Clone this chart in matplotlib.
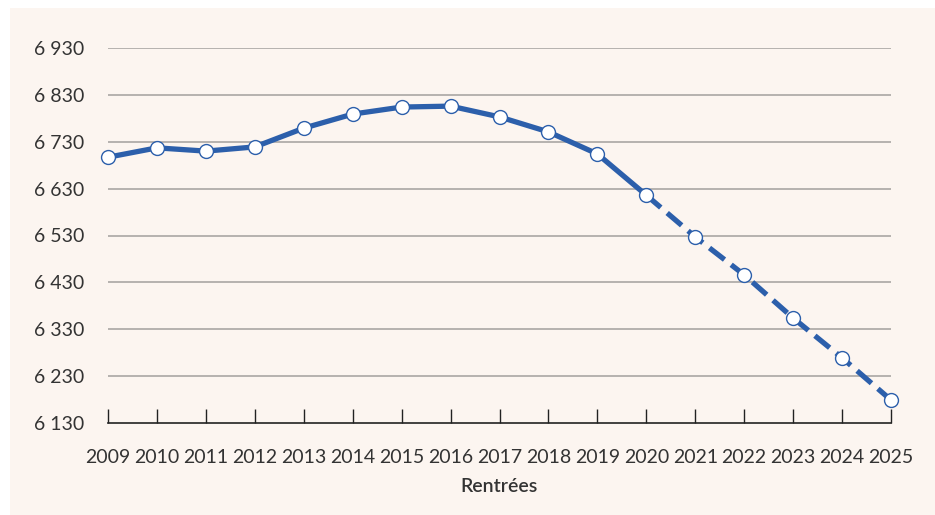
import matplotlib
matplotlib.use('Agg')
import matplotlib.pyplot as plt
from matplotlib.patches import Rectangle

plt.rcParams['font.family'] = ['Lato', 'DejaVu Sans']

years = [2009, 2010, 2011, 2012, 2013, 2014, 2015, 2016, 2017,
         2018, 2019, 2020, 2021, 2022, 2023, 2024, 2025]
values = [6697, 6717, 6710, 6719, 6759, 6789, 6804, 6806, 6783,
          6751, 6704, 6616, 6527, 6446, 6354, 6269, 6179]
last_obs = 2020  # from here on the line is a projection (dashed)
yticks = [6130, 6230, 6330, 6430, 6530, 6630, 6730, 6830, 6930]
ytick_labels = ['6 130', '6 230', '6 330', '6 430', '6 530', '6 630', '6 730', '6 830', '6 930']

blue = '#2c5fab'
txt = '#333333'
bg = '#fcf5f0'

fig = plt.figure(figsize=(9.35, 5.15), dpi=100, facecolor='white')
fig.patches.append(Rectangle((10/935, 0), 1, 507/515, transform=fig.transFigure,
                             facecolor=bg, edgecolor='none', zorder=-10))

ax = fig.add_axes([108/935, 1-423/515, (891-108)/935, (423-48)/515])
ax.set_facecolor('none')

k = years.index(last_obs)
ax.plot(years[:k+1], values[:k+1], color=blue, lw=3.8, solid_capstyle='round', zorder=3, clip_on=False)
ax.plot(years[k:], values[k:], color=blue, lw=3.8, linestyle=(0, (3.6, 1.6)), zorder=3, clip_on=False)
ax.plot(years, values, linestyle='none', marker='o', ms=10, mfc='white', mec=blue, mew=1.0,
        zorder=4, clip_on=False)

ax.set_xlim(2009, 2025)
ax.set_ylim(6130, 6930)
ax.set_yticks(yticks)
ax.set_yticklabels(ytick_labels)
ax.set_xticks(years)
ax.set_xticklabels([str(y) for y in years])

for y in yticks[1:]:
    ax.axhline(y, color='#aaa6a4', lw=1.2, zorder=1)

for s in ['top', 'right', 'left']:
    ax.spines[s].set_visible(False)
ax.spines['bottom'].set_color('#222222')
ax.spines['bottom'].set_linewidth(1.2)

ax.tick_params(axis='x', direction='in', length=10, width=1.0, color='#222222',
               labelsize=14, labelcolor=txt, pad=19)
ax.tick_params(axis='y', length=0, labelsize=14, labelcolor=txt, pad=17)

ax.set_xlabel('Rentrées', fontsize=14, fontweight='semibold', color=txt, labelpad=8)

fig.savefig('out.png', dpi=100)
